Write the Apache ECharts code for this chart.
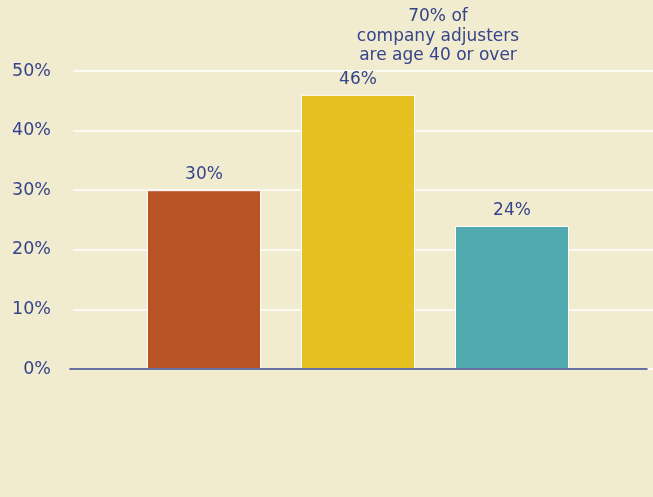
<!DOCTYPE html>
<html>
<head>
<meta charset="utf-8">
<script src="https://cdn.jsdelivr.net/npm/echarts@6/dist/echarts.min.js"></script>
<style>
  html, body { margin: 0; padding: 0; background: #F1EBD0; }
  #chart { width: 653px; height: 497px; }
</style>
</head>
<body>
<div id="chart"></div>
<script>
// Age groups of company adjusters (share of total)
const categories = ['Under 40', '40 to 54', '55 and over'];
const shares = [30, 46, 24];
const barColors = ['#B85325', '#E5C020', '#52AAB1'];
const yTicks = [0, 10, 20, 30, 40, 50];
const note = '70% of\ncompany adjusters\nare age 40 or over';

const navy = '#36448A';
const font = '"DejaVu Sans", sans-serif';
const TOP = 71, BOTTOM = 128;

const chart = echarts.init(document.getElementById('chart'));
chart.setOption({
  backgroundColor: '#F1EBD0',
  animation: false,
  title: {
    text: note,
    left: 433,
    top: 2,
    textAlign: 'center',
    textStyle: { color: navy, fontFamily: font, fontSize: 17, fontWeight: 'normal', lineHeight: 19.5, align: 'center' }
  },
  grid: [
    // bars
    { left: 127, right: 64, top: TOP, bottom: BOTTOM, outerBoundsMode: 'none' },
    // value scale labels and gridlines
    { left: 73, right: 0, top: TOP, bottom: BOTTOM, outerBoundsMode: 'none' },
    // baseline
    { left: 70, right: 6, top: TOP, bottom: BOTTOM, outerBoundsMode: 'none' }
  ],
  xAxis: [
    { gridIndex: 0, type: 'category', data: categories, show: false },
    { gridIndex: 1, type: 'value', show: false },
    {
      gridIndex: 2, type: 'value', z: 5,
      axisLine: { show: true, lineStyle: { color: navy, width: 1.5 } },
      axisTick: { show: false }, axisLabel: { show: false }, splitLine: { show: false }
    }
  ],
  yAxis: [
    { gridIndex: 0, type: 'value', min: 0, max: 50, show: false, splitLine: { show: false } },
    {
      gridIndex: 1, type: 'value', min: yTicks[0], max: yTicks[yTicks.length - 1], interval: 10,
      axisLine: { show: false }, axisTick: { show: false },
      axisLabel: {
        margin: 22, color: navy, fontFamily: font, fontSize: 17.5,
        formatter: v => yTicks.includes(v) ? v + '%' : ''
      },
      splitLine: { show: true, lineStyle: { color: '#FFFFFF', width: 1.5 } }
    },
    { gridIndex: 2, type: 'value', min: 0, max: 50, show: false, splitLine: { show: false } }
  ],
  series: [{
    type: 'bar',
    xAxisIndex: 0,
    yAxisIndex: 0,
    barWidth: 114,
    z: 3,
    data: shares.map((v, i) => ({ value: v, itemStyle: { color: barColors[i] } })),
    itemStyle: { borderColor: '#FFFFFF', borderWidth: 1 },
    label: {
      show: true, position: 'top', distance: 7,
      color: navy, fontFamily: font, fontSize: 17,
      formatter: p => p.value + '%'
    }
  }]
});
</script>
</body>
</html>
